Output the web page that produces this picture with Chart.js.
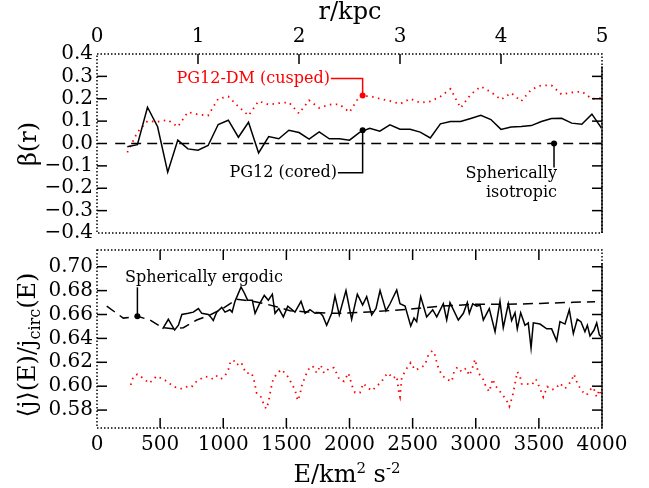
<!DOCTYPE html>
<html><head><meta charset="utf-8">
<script src="https://cdn.jsdelivr.net/npm/chart.js@4.4.1/dist/chart.umd.min.js"></script>
<style>
html,body{margin:0;padding:0;background:#fff;width:649px;height:488px;overflow:hidden;position:relative}
canvas{position:absolute;left:0}
#c1{top:0;width:649px;height:260px}
#c2{top:230px;width:649px;height:258px}
</style></head><body>
<canvas id="c1" width="649" height="260"></canvas>
<canvas id="c2" width="649" height="258"></canvas>
<script>
const FONT = '"DejaVu Serif", serif';
Chart.defaults.font.family = FONT;
Chart.defaults.color = '#000';

// ---- tick labels ----
const rTicks = [0, 1, 2, 3, 4, 5];
const betaTicks = [-0.4, -0.3, -0.2, -0.1, 0, 0.1, 0.2, 0.3, 0.4];
const eTicks = [0, 500, 1000, 1500, 2000, 2500, 3000, 3500, 4000];
const jTicks = [0.58, 0.60, 0.62, 0.64, 0.66, 0.68, 0.70];

// ---- top panel: beta(r) ----
const rGrid = [0.3,0.4,0.5,0.6,0.7,0.8,0.9,1.0,1.1,1.2,1.3,1.4,1.5,1.6,1.7,1.8,1.9,2.0,2.1,2.2,2.3,2.4,2.5,2.6,2.7,2.8,2.9,3.0,3.1,3.2,3.3,3.4,3.5,3.6,3.7,3.8,3.9,4.0,4.1,4.2,4.3,4.4,4.5,4.6,4.7,4.8,4.9,5.0];
const betaCored = [-0.015,-0.005,0.162,0.075,-0.128,0.015,-0.024,-0.030,-0.009,0.085,0.104,0.028,0.095,-0.042,0.031,0.021,0.059,0.049,0.020,0.052,0.021,0.021,0.015,0.050,0.068,0.055,0.083,0.064,0.064,0.051,0.025,0.088,0.098,0.098,0.112,0.126,0.107,0.063,0.074,0.076,0.080,0.098,0.112,0.113,0.091,0.086,0.131,0.066];
const betaCusped = [-0.04,0.05,0.10,0.097,0.105,0.075,0.14,0.13,0.125,0.20,0.21,0.165,0.125,0.189,0.174,0.18,0.184,0.134,0.193,0.159,0.174,0.175,0.14,0.212,0.212,0.20,0.19,0.177,0.20,0.182,0.188,0.21,0.244,0.159,0.219,0.255,0.23,0.196,0.226,0.189,0.241,0.26,0.26,0.219,0.228,0.232,0.20,0.203];
const isoR = [0.18, 5.0];
const isoBeta = [0, 0];

// ---- bottom panel: <j>(E)/jcirc(E) ----
const eCored = [520,565,615,645,672,723,763,803,830,882,900,921,948,988,1014,1053,1070,1093,1141,1167,1193,1230,1252,1283,1325,1357,1389,1410,1440,1476,1511,1568,1616,1648,1687,1727,1766,1788,1819,1859,1885,1919,1972,2017,2062,2104,2136,2176,2210,2242,2289,2321,2374,2400,2440,2485,2511,2532,2564,2611,2659,2691,2743,2770,2796,2862,2902,2933,2949,2976,3008,3034,3060,3107,3153,3192,3218,3258,3284,3311,3329,3356,3390,3416,3438,3456,3509,3562,3601,3641,3667,3707,3741,3773,3804,3833,3865,3884,3905,3937,3958,3979,3997];
const jCored = [0.648,0.656,0.647,0.651,0.660,0.661,0.662,0.665,0.661,0.660,0.658,0.655,0.662,0.666,0.662,0.664,0.662,0.671,0.683,0.678,0.672,0.672,0.661,0.668,0.676,0.672,0.677,0.661,0.665,0.658,0.667,0.662,0.671,0.661,0.664,0.661,0.6615,0.659,0.651,0.661,0.6755,0.6596,0.680,0.656,0.677,0.668,0.675,0.6596,0.665,0.680,0.663,0.669,0.6805,0.669,0.667,0.6504,0.657,0.654,0.675,0.658,0.664,0.658,0.669,0.6554,0.670,0.6554,0.661,0.670,0.661,0.669,0.667,0.668,0.6554,0.665,0.6456,0.671,0.649,0.669,0.655,0.6615,0.648,0.6615,0.651,0.653,0.632,0.653,0.652,0.648,0.648,0.638,0.654,0.652,0.664,0.644,0.656,0.654,0.6456,0.651,0.642,0.647,0.653,0.643,0.641];
const eCusped = [267,288,320,367,414,473,539,604,644,684,720,750,776,816,850,888,921,948,982,1014,1040,1053,1080,1106,1141,1159,1178,1225,1246,1265,1299,1317,1339,1357,1378,1397,1424,1457,1490,1516,1543,1568,1590,1608,1621,1648,1674,1708,1740,1772,1798,1840,1877,1919,1956,1991,2025,2044,2083,2109,2136,2176,2216,2255,2281,2308,2342,2374,2392,2400,2414,2448,2485,2519,2558,2598,2624,2656,2677,2696,2730,2770,2810,2828,2854,2889,2923,2949,2968,2994,3021,3055,3081,3107,3134,3153,3179,3205,3245,3266,3292,3311,3329,3350,3364,3403,3443,3477,3509,3535,3567,3601,3633,3667,3707,3733,3760,3778,3799,3820,3846,3878,3905,3932,3958,3979,3997];
const jCusped = [0.601,0.608,0.610,0.6066,0.6024,0.6085,0.605,0.600,0.598,0.598,0.600,0.5994,0.603,0.6058,0.608,0.6078,0.6058,0.6085,0.606,0.6088,0.6135,0.619,0.622,0.6177,0.620,0.616,0.611,0.611,0.604,0.594,0.591,0.586,0.581,0.586,0.598,0.6066,0.610,0.614,0.611,0.6074,0.602,0.597,0.588,0.593,0.600,0.608,0.614,0.617,0.611,0.6177,0.611,0.615,0.6155,0.6058,0.604,0.611,0.599,0.5946,0.5946,0.6024,0.5996,0.5962,0.600,0.604,0.6085,0.611,0.6066,0.6085,0.594,0.591,0.607,0.614,0.6197,0.6135,0.615,0.6177,0.626,0.6297,0.626,0.6177,0.6094,0.6058,0.604,0.612,0.616,0.612,0.615,0.609,0.6135,0.6225,0.611,0.6066,0.5996,0.5954,0.606,0.601,0.597,0.594,0.588,0.583,0.592,0.602,0.612,0.6085,0.602,0.602,0.601,0.6058,0.598,0.591,0.5996,0.597,0.598,0.6024,0.598,0.601,0.605,0.610,0.604,0.5996,0.5954,0.5926,0.597,0.599,0.591,0.597,0.591];
const eErgodic = [77,208,320,420,512,600,684,790,895,1000,1107,1212,1317,1422,1529,1634,1740,1845,1950,2189,2453,2717,2981,3245,3509,3773,3945];
const jErgodic = [0.667,0.657,0.6585,0.6554,0.6493,0.648,0.649,0.6554,0.6596,0.6652,0.6727,0.6715,0.6693,0.6665,0.6632,0.6624,0.6616,0.661,0.661,0.6623,0.6643,0.667,0.6685,0.6685,0.6693,0.6702,0.6707];

const pts = (xs, ys) => xs.map((x, i) => ({x, y: ys[i]}));
const fmtBeta = v => (v < -1e-9 ? '\u2212' : '') + Math.abs(v).toFixed(1);

function richText(ctx, segs, x, y, align) {
  let total = 0;
  for (const s of segs) { ctx.font = s.size + 'px ' + FONT; total += ctx.measureText(s.t).width; }
  let cx = align === 'center' ? x - total / 2 : (align === 'right' ? x - total : x);
  ctx.textAlign = 'left'; ctx.textBaseline = 'alphabetic';
  for (const s of segs) {
    ctx.font = s.size + 'px ' + FONT;
    ctx.fillText(s.t, cx, y + (s.dy || 0));
    cx += ctx.measureText(s.t).width;
  }
}

const decor = {
  id: 'decor',
  afterDatasetsDraw(chart, args, o) {
    const {ctx, chartArea: a, scales: {x, y}} = chart;
    const line = (x1, y1, x2, y2) => { ctx.beginPath(); ctx.moveTo(x1, y1); ctx.lineTo(x2, y2); ctx.stroke(); };
    ctx.save();
    ctx.strokeStyle = '#555'; ctx.lineWidth = 2;
    line(a.right, y.getPixelForValue(o.barTop), a.right, a.bottom);
    ctx.strokeStyle = '#000'; ctx.lineWidth = 1.5; ctx.setLineDash([1.5, 2]);
    ctx.strokeRect(a.left, a.top, a.right - a.left, a.bottom - a.top);
    ctx.setLineDash([]);
    ctx.lineWidth = 1.5;
    for (const v of o.yMarks) {
      const py = y.getPixelForValue(v);
      line(a.left, py, a.left + 10, py);
      line(a.right, py, a.right - 10, py);
    }
    for (const v of o.xMarks) {
      const px = x.getPixelForValue(v);
      line(px, a.top, px, a.top + 10);
      if (o.bottomMarks) line(px, a.bottom, px, a.bottom - 10);
    }
    for (const L of o.leaders) {
      ctx.strokeStyle = L.color; ctx.lineWidth = 1.5;
      ctx.beginPath();
      L.pts.forEach((p, i) => {
        const px = x.getPixelForValue(p[0]), py = y.getPixelForValue(p[1]);
        i ? ctx.lineTo(px, py) : ctx.moveTo(px, py);
      });
      ctx.stroke();
    }
    for (const m of o.markers) {
      ctx.fillStyle = m.color;
      ctx.beginPath();
      ctx.arc(x.getPixelForValue(m.x), y.getPixelForValue(m.y), 3, 0, Math.PI * 2);
      ctx.fill();
    }
    for (const t of o.labels) {
      ctx.fillStyle = t.color || '#000';
      ctx.font = '16px ' + FONT;
      ctx.textAlign = t.align; ctx.textBaseline = t.base;
      ctx.fillText(t.text, x.getPixelForValue(t.x), y.getPixelForValue(t.y));
    }
    ctx.fillStyle = '#000';
    for (const T of o.titles) {
      if (T.rotate) {
        ctx.save(); ctx.translate(T.x, T.y); ctx.rotate(-Math.PI / 2);
        richText(ctx, T.segs, 0, 0, 'center');
        ctx.restore();
      } else {
        richText(ctx, T.segs, T.x, T.y, 'center');
      }
    }
    ctx.restore();
  }
};

const baseOpts = {
  responsive: false, animation: false, devicePixelRatio: 1,
  plugins: {legend: {display: false}, tooltip: {enabled: false}},
  elements: {point: {radius: 0}, line: {tension: 0}}
};

new Chart(document.getElementById('c1'), {
  type: 'line',
  data: {datasets: [
    {data: pts(isoR, isoBeta), borderColor: '#000', borderWidth: 1.5, borderDash: [10, 6]},
    {data: pts(rGrid, betaCored), borderColor: '#000', borderWidth: 1.5},
    {data: pts(rGrid, betaCusped), borderColor: '#ff0000', borderWidth: 1.8, borderDash: [1.5, 4.5]}
  ]},
  options: Object.assign({}, baseOpts, {
    layout: {padding: {left: 0, right: 47, top: 0, bottom: 27}},
    scales: {
      x: {type: 'linear', position: 'top', min: 0, max: 5,
        afterBuildTicks: s => { s.ticks = rTicks.map(v => ({value: v})); },
        afterFit: s => { s.height = 54; },
        ticks: {font: {size: 20}, color: '#000', padding: 5, maxRotation: 0, autoSkip: false, callback: v => String(v)},
        grid: {display: false, drawTicks: false}, border: {display: false}},
      y: {type: 'linear', min: -0.4, max: 0.4,
        afterBuildTicks: s => { s.ticks = betaTicks.map(v => ({value: v})); },
        afterFit: s => { s.width = 97; },
        ticks: {font: {size: 20}, color: '#000', padding: 4, autoSkip: false, callback: v => fmtBeta(v)},
        grid: {display: false, drawTicks: false}, border: {display: false}}
    },
    plugins: Object.assign({}, baseOpts.plugins, {decor: {
      barTop: 0.345,
      yMarks: [-0.3, -0.2, -0.1, 0, 0.1, 0.2, 0.3],
      xMarks: [1, 2, 3, 4], bottomMarks: false,
      leaders: [
        {color: '#ff0000', pts: [[2.315, 0.29], [2.63, 0.29], [2.63, 0.214]]},
        {color: '#000', pts: [[2.385, -0.131], [2.63, -0.131], [2.63, 0.059]]},
        {color: '#000', pts: [[4.525, 0], [4.525, -0.107]]}
      ],
      markers: [
        {x: 2.63, y: 0.214, color: '#ff0000'},
        {x: 2.63, y: 0.059, color: '#000'},
        {x: 4.525, y: 0, color: '#000'}
      ],
      labels: [
        {text: 'PG12-DM (cusped)', color: '#ff0000', x: 2.307, y: 0.29, align: 'right', base: 'middle'},
        {text: 'PG12 (cored)', x: 2.375, y: -0.131, align: 'right', base: 'middle'},
        {text: 'Spherically', x: 4.554, y: -0.153, align: 'right', base: 'alphabetic'},
        {text: 'isotropic', x: 4.554, y: -0.237, align: 'right', base: 'alphabetic'}
      ],
      titles: [
        {x: 350, y: 19, segs: [{t: 'r/kpc', size: 24}]},
        {x: 36, y: 144, rotate: true, segs: [{t: '\u03B2(r)', size: 24}]}
      ]
    }})
  }),
  plugins: [decor]
});

new Chart(document.getElementById('c2'), {
  type: 'line',
  data: {datasets: [
    {data: pts(eErgodic, jErgodic), borderColor: '#000', borderWidth: 1.5, borderDash: [10, 6]},
    {data: pts(eCusped, jCusped), borderColor: '#ff0000', borderWidth: 1.8, borderDash: [1.5, 4.5]},
    {data: pts(eCored, jCored), borderColor: '#000', borderWidth: 1.5}
  ]},
  options: Object.assign({}, baseOpts, {
    layout: {padding: {left: 0, right: 47, top: 20, bottom: 0}},
    scales: {
      x: {type: 'linear', position: 'bottom', min: 0, max: 4000,
        afterBuildTicks: s => { s.ticks = eTicks.map(v => ({value: v})); },
        afterFit: s => { s.height = 60; },
        ticks: {font: {size: 20}, color: '#000', padding: 5, maxRotation: 0, autoSkip: false, callback: v => String(v)},
        grid: {display: false, drawTicks: false}, border: {display: false}},
      y: {type: 'linear', min: 0.565, max: 0.714,
        afterBuildTicks: s => { s.ticks = jTicks.map(v => ({value: v})); },
        afterFit: s => { s.width = 97; },
        ticks: {font: {size: 20}, color: '#000', padding: 4, autoSkip: false, callback: v => v.toFixed(2)},
        grid: {display: false, drawTicks: false}, border: {display: false}}
    },
    plugins: Object.assign({}, baseOpts.plugins, {decor: {
      barTop: 0.703,
      yMarks: [0.58, 0.60, 0.62, 0.64, 0.66, 0.68, 0.70],
      xMarks: [500, 1000, 1500, 2000, 2500, 3000, 3500], bottomMarks: true,
      leaders: [
        {color: '#000', pts: [[320, 0.6585], [320, 0.6828]]}
      ],
      markers: [
        {x: 320, y: 0.6585, color: '#000'}
      ],
      labels: [
        {text: 'Spherically ergodic', x: 222, y: 0.6874, align: 'left', base: 'alphabetic'}
      ],
      titles: [
        {x: 347, y: 252, segs: [{t: 'E/km', size: 24}, {t: '2', size: 15, dy: -9}, {t: ' s', size: 24}, {t: '-2', size: 15, dy: -9}]},
        {x: 35, y: 115, rotate: true, segs: [{t: '\u27E8j\u27E9(E)/j', size: 24}, {t: 'circ', size: 16, dy: 5}, {t: '(E)', size: 24}]}
      ]
    }})
  }),
  plugins: [decor]
});
</script>
</body></html>
